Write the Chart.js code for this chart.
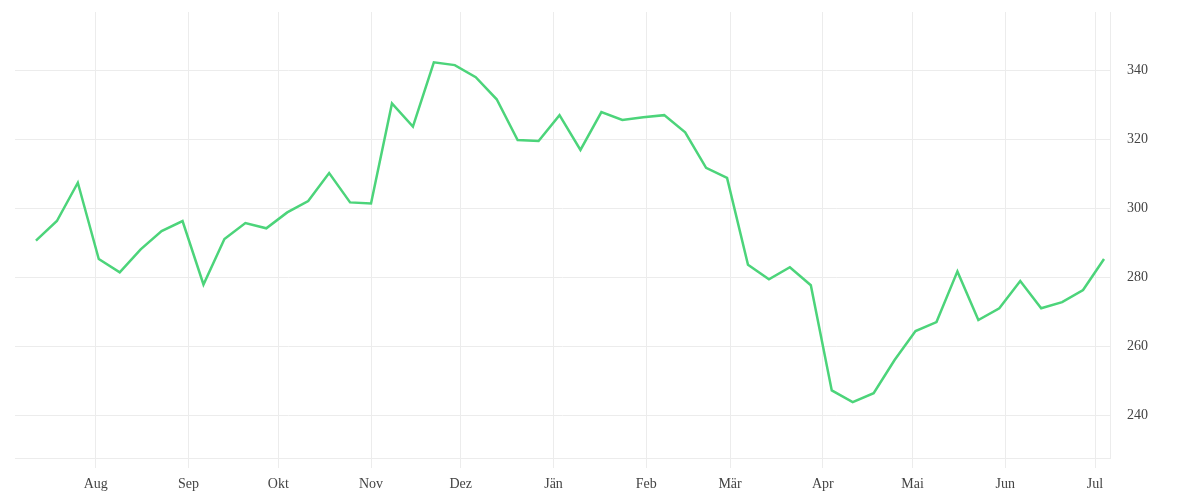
<!DOCTYPE html>
<html>
<head>
<meta charset="utf-8">
<script src="https://cdn.jsdelivr.net/npm/chart.js@4/dist/chart.umd.min.js"></script>
<style>
  html, body { margin: 0; padding: 0; background: #ffffff; }
  #wrap { width: 1200px; height: 500px; position: relative; }
</style>
</head>
<body>
<div id="wrap"><canvas id="c"></canvas></div>
<script>
// Weekly observation dates
const dates = [
  "2022-07-12","2022-07-19","2022-07-26","2022-08-02","2022-08-09","2022-08-16","2022-08-23","2022-08-30",
  "2022-09-06","2022-09-13","2022-09-20","2022-09-27","2022-10-04","2022-10-11","2022-10-18","2022-10-25",
  "2022-11-01","2022-11-08","2022-11-15","2022-11-22","2022-11-29","2022-12-06","2022-12-13","2022-12-20",
  "2022-12-27","2023-01-03","2023-01-10","2023-01-17","2023-01-24","2023-01-31","2023-02-07","2023-02-14",
  "2023-02-21","2023-02-28","2023-03-07","2023-03-14","2023-03-21","2023-03-28","2023-04-04","2023-04-11",
  "2023-04-18","2023-04-25","2023-05-02","2023-05-09","2023-05-16","2023-05-23","2023-05-30","2023-06-06",
  "2023-06-13","2023-06-20","2023-06-27","2023-07-04"
];
// Series values
const values = [
  290.6, 296.3, 307.4, 285.3, 281.4, 288.1, 293.4, 296.3,
  277.9, 291.1, 295.7, 294.2, 298.8, 302.1, 310.2, 301.7,
  301.4, 330.4, 323.7, 342.3, 341.5, 338.0, 331.6, 319.8,
  319.5, 327.0, 316.9, 327.9, 325.6, 326.4, 327.0, 322.0,
  311.7, 308.8, 283.6, 279.4, 282.9, 277.7, 247.2, 243.8,
  246.4, 256.0, 264.4, 267.0, 281.7, 267.6, 271.0, 278.9,
  271.0, 272.8, 276.3, 285.3
];
// X axis month ticks
const monthStarts = ["2022-08-01","2022-09-01","2022-10-01","2022-11-01","2022-12-01","2023-01-01",
  "2023-02-01","2023-03-01","2023-04-01","2023-05-01","2023-06-01","2023-07-01"];
const monthLabels = ["Aug","Sep","Okt","Nov","Dez","Jän","Feb","Mär","Apr","Mai","Jun","Jul"];
// Y axis ticks
const yTicks = [240, 260, 280, 300, 320, 340];
const xRange = ["2022-07-05", "2023-07-06"];
const yRange = [227.6, 356.9];

const toMs = s => Date.parse(s + "T00:00:00Z");
const points = dates.map((d, i) => ({ x: toMs(d), y: values[i] }));
const monthMs = monthStarts.map(toMs);

const FONT = "'Liberation Serif', serif";
const GRID = "#ececec";

new Chart(document.getElementById("c"), {
  type: "line",
  data: {
    datasets: [{
      data: points,
      borderColor: "#4cd47a",
      borderWidth: 2.5,
      pointRadius: 0,
      tension: 0,
      fill: false
    }]
  },
  options: {
    responsive: true,
    maintainAspectRatio: false,
    animation: false,
    layout: { padding: { left: 15, top: 12, right: 0, bottom: 0 } },
    plugins: { legend: { display: false }, tooltip: { enabled: false } },
    scales: {
      x: {
        type: "linear",
        min: toMs(xRange[0]),
        max: toMs(xRange[1]),
        afterBuildTicks: s => { s.ticks = monthMs.map(v => ({ value: v })); },
        afterFit: s => { s.height = 42; s.paddingLeft = 0; s.paddingRight = 0; },
        grid: { color: GRID, lineWidth: 1, tickLength: 10, drawTicks: true, tickColor: GRID },
        border: { display: true, color: GRID },
        ticks: {
          autoSkip: false,
          maxRotation: 0,
          padding: 8,
          color: "#444",
          font: { family: FONT, size: 14 },
          callback: (v, i) => monthLabels[i]
        }
      },
      y: {
        position: "right",
        min: yRange[0],
        max: yRange[1],
        afterBuildTicks: s => { s.ticks = yTicks.map(v => ({ value: v })); },
        afterFit: s => { s.width = 90; s.paddingTop = 0; s.paddingBottom = 0; },
        grid: { color: GRID, lineWidth: 1, drawTicks: false },
        border: { display: true, color: GRID },
        ticks: {
          padding: 17,
          color: "#444",
          font: { family: FONT, size: 14 },
          callback: v => String(v)
        }
      }
    }
  }
});
</script>
</body>
</html>
